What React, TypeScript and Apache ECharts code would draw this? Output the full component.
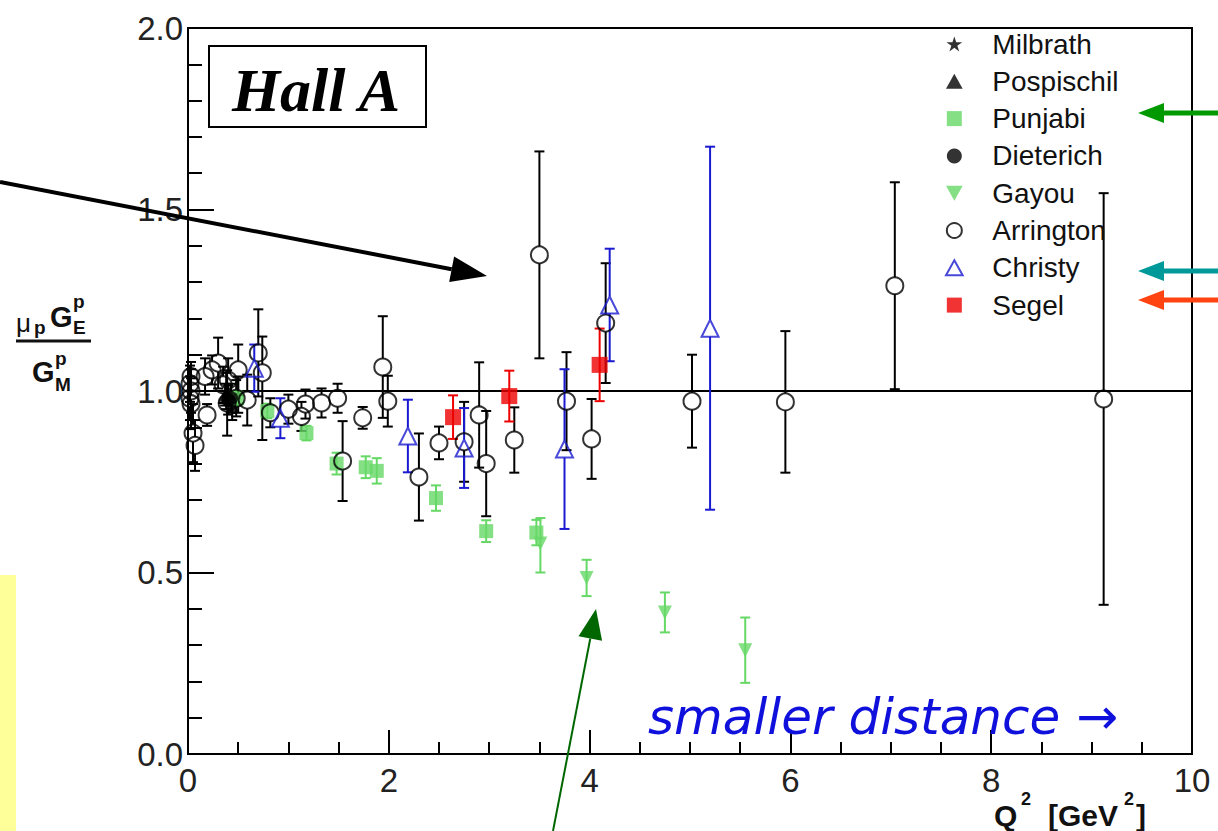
import React, { useEffect, useRef } from 'react';
import * as echarts from 'echarts';

// axis ticks
const xMin = 0, xMax = 10, xStep = 2;
const yMin = 0, yMax = 2, yStep = 0.5;

// [Q2, ratio, errLow, errHigh]
const milbrath = [[0.38, 1.0, 0.05, 0.05], [0.5, 0.99, 0.05, 0.05]];
const pospischil = [[0.37, 0.99, 0.03, 0.03], [0.44, 0.96, 0.04, 0.04]];
const punjabi = [
  [0.49, 0.98, 0.02, 0.02], [0.79, 0.945, 0.02, 0.02], [1.18, 0.884, 0.02, 0.02],
  [1.48, 0.8, 0.03, 0.03], [1.77, 0.79, 0.03, 0.03], [1.88, 0.78, 0.035, 0.035],
  [2.47, 0.705, 0.035, 0.035], [2.97, 0.614, 0.03, 0.03], [3.47, 0.61, 0.035, 0.035],
];
const dieterich = [[0.4, 0.975, 0.04, 0.04], [0.43, 0.98, 0.04, 0.04]];
const gayou = [
  [3.51, 0.58, 0.08, 0.07], [3.97, 0.485, 0.05, 0.05], [4.75, 0.39, 0.055, 0.055], [5.55, 0.286, 0.09, 0.09],
];
const arrington = [
  [0.03, 1.04, 0.04, 0.04], [0.02, 1.02, 0.05, 0.05], [0.03, 1.0, 0.06, 0.06], [0.02, 0.98, 0.06, 0.06],
  [0.03, 0.965, 0.07, 0.07], [0.05, 0.884, 0.08, 0.08], [0.07, 0.85, 0.07, 0.07], [0.19, 0.934, 0.03, 0.03],
  [0.17, 1.04, 0.05, 0.05], [0.24, 1.058, 0.04, 0.04], [0.3, 1.077, 0.07, 0.07], [0.35, 1.017, 0.05, 0.05],
  [0.4, 1.03, 0.06, 0.06], [0.39, 0.967, 0.09, 0.09], [0.5, 1.058, 0.07, 0.07], [0.48, 0.98, 0.05, 0.05],
  [0.59, 0.975, 0.07, 0.07], [0.7, 1.105, 0.12, 0.12], [0.74, 1.05, 0.185, 0.1], [0.82, 0.94, 0.04, 0.04],
  [1.0, 0.95, 0.04, 0.04], [1.13, 0.93, 0.04, 0.04], [1.17, 0.964, 0.04, 0.04], [1.33, 0.967, 0.04, 0.04],
  [1.49, 0.98, 0.04, 0.04], [1.54, 0.807, 0.11, 0.11], [1.74, 0.926, 0.03, 0.03], [1.94, 1.066, 0.14, 0.14],
  [1.99, 0.972, 0.07, 0.07], [2.3, 0.763, 0.12, 0.12], [2.5, 0.857, 0.045, 0.045], [2.75, 0.86, 0.11, 0.11],
  [2.9, 0.934, 0.145, 0.145], [2.97, 0.8, 0.145, 0.145], [3.25, 0.865, 0.09, 0.09], [3.5, 1.375, 0.285, 0.285],
  [3.77, 0.972, 0.135, 0.135], [4.02, 0.868, 0.11, 0.11], [4.16, 1.187, 0.165, 0.165], [5.02, 0.972, 0.128, 0.128],
  [5.95, 0.97, 0.195, 0.195], [7.04, 1.29, 0.285, 0.285], [9.12, 0.978, 0.567, 0.567],
];
const christy = [
  [0.66, 1.063, 0.065, 0.065], [0.92, 0.925, 0.055, 0.055], [2.19, 0.876, 0.1, 0.1], [2.75, 0.843, 0.11, 0.11],
  [3.75, 0.84, 0.22, 0.22], [4.2, 1.237, 0.155, 0.155], [5.2, 1.173, 0.5, 0.5],
];
const segel = [[2.64, 0.928, 0.06, 0.06], [3.2, 0.986, 0.07, 0.07], [4.1, 1.072, 0.1, 0.1]];

const legendNames = ['Milbrath', 'Pospischil', 'Punjabi', 'Dieterich', 'Gayou', 'Arrington', 'Christy', 'Segel'];

const GREEN = '#66d866';
const STAR = 'path://M5,0 L6.2,3.6 L10,3.6 L6.9,5.8 L8.1,9.5 L5,7.2 L1.9,9.5 L3.1,5.8 L0,3.6 L3.8,3.6 Z';
const DOWN = 'path://M0,0 L10,0 L5,9 Z';
const UP = 'path://M5,0 L10,9 L0,9 Z';
const SQUARE = 'path://M0,0 L10,0 L10,10 L0,10 Z';

const sets: any[] = [
  { name: 'Milbrath', data: milbrath, symbol: STAR, size: 11, color: '#000', hollow: false },
  { name: 'Pospischil', data: pospischil, symbol: UP, size: 14, color: '#000', hollow: false },
  { name: 'Punjabi', data: punjabi, symbol: SQUARE, size: 14, color: GREEN, hollow: false },
  { name: 'Dieterich', data: dieterich, symbol: 'circle', size: 14, color: '#000', hollow: false },
  { name: 'Gayou', data: gayou, symbol: DOWN, size: 14, color: GREEN, hollow: false },
  { name: 'Arrington', data: arrington, symbol: 'circle', size: 17, color: '#000', hollow: true },
  { name: 'Christy', data: christy, symbol: UP, size: 17, color: '#1a1ad0', hollow: true },
  { name: 'Segel', data: segel, symbol: SQUARE, size: 16, color: '#ee0000', hollow: false },
];

const makeErr = (color: string, gap: number) => (params: any, api: any) => {
  const x = api.value(0), y = api.value(1), lo = api.value(2), hi = api.value(3);
  const c = api.coord([x, y]);
  const t = api.coord([x, y + hi]);
  const b = api.coord([x, y - lo]);
  const style = { stroke: color, lineWidth: 2 };
  const ch: any[] = [];
  if (c[1] - gap > t[1]) ch.push({ type: 'line', shape: { x1: c[0], y1: t[1], x2: c[0], y2: c[1] - gap }, style });
  if (b[1] > c[1] + gap) ch.push({ type: 'line', shape: { x1: c[0], y1: c[1] + gap, x2: c[0], y2: b[1] }, style });
  ch.push({ type: 'line', shape: { x1: c[0] - 5, y1: t[1], x2: c[0] + 5, y2: t[1] }, style });
  ch.push({ type: 'line', shape: { x1: c[0] - 5, y1: b[1], x2: c[0] + 5, y2: b[1] }, style });
  return { type: 'group', children: ch };
};

function arrowHead(tip: number[], from: number[], len: number, half: number) {
  const dx = tip[0] - from[0], dy = tip[1] - from[1];
  const L = Math.hypot(dx, dy);
  const ux = dx / L, uy = dy / L;
  const bx = tip[0] - ux * len, by = tip[1] - uy * len;
  return { base: [bx, by], pts: [tip, [bx - uy * half, by + ux * half], [bx + uy * half, by - ux * half]] };
}

function arrow(from: number[], tip: number[], color: string, width: number, len: number, half: number) {
  const h = arrowHead(tip, from, len, half);
  return [
    { type: 'line', z: 20, shape: { x1: from[0], y1: from[1], x2: h.base[0], y2: h.base[1] }, style: { stroke: color, lineWidth: width } },
    { type: 'polygon', z: 20, shape: { points: h.pts }, style: { fill: color } },
  ];
}

export default function App() {
  const ref = useRef<HTMLDivElement>(null);
  useEffect(() => {
    if (!ref.current) return;
    const chart = echarts.init(ref.current, undefined, { renderer: 'svg' });
    const series: any[] = [];
    series.push({
      type: 'line', name: 'unity', data: [[0, 1], [10, 1]], symbol: 'none', silent: true,
      lineStyle: { color: '#000', width: 2 }, z: 1,
    });
    sets.forEach((s) => {
      series.push({
        type: 'custom', name: s.name + ' err', data: s.data, encode: { x: 0, y: 1 },
        renderItem: makeErr(s.color, s.hollow ? s.size / 2 : 0), z: 2, silent: true,
      });
    });
    sets.forEach((s) => {
      series.push({
        type: 'scatter', name: s.name, data: s.data.map((d: number[]) => [d[0], d[1]]),
        symbol: s.symbol, symbolSize: s.size, z: 3,
        itemStyle: s.hollow
          ? { color: 'rgba(255,255,255,0)', borderColor: s.color, borderWidth: 2 }
          : { color: s.color, borderWidth: 0 },
      });
    });

    const tickFont = { fontSize: 33, color: '#222', fontFamily: 'Liberation Sans' };
    const graphic: any[] = [
      { type: 'rect', z: 20, shape: { x: 0, y: 575, width: 16, height: 256 }, style: { fill: '#ffff99' } },
      { type: 'rect', z: 20, shape: { x: 209, y: 46, width: 217, height: 81 }, style: { fill: '#fff', stroke: '#000', lineWidth: 2 } },
      { type: 'text', z: 21, x: 316, y: 90, style: { text: 'Hall A', font: 'italic bold 62px "Liberation Serif"', fill: '#000', align: 'center', verticalAlign: 'middle' } },
      ...arrow([0, 182], [487, 276], '#000', 4, 36, 13),
      ...arrow([1218, 113], [1138, 113], '#009a00', 5, 26, 10),
      ...arrow([1218, 271], [1138, 271], '#009999', 5, 26, 10),
      ...arrow([1218, 300], [1138, 300], '#ff4411', 5, 26, 10),
      ...arrow([553, 831], [596, 609], '#006600', 2, 30, 12),
      { type: 'text', z: 21, x: 648, y: 717, style: { text: 'smaller distance →', font: 'italic 50px "DejaVu Sans"', fill: '#1010dd', verticalAlign: 'middle' } },
      // y-axis title: mu_p G_E^p / G_M^p
      { type: 'text', z: 21, x: 16, y: 323, style: { text: 'μ', font: '26px "Liberation Sans"', fill: '#111', verticalAlign: 'middle' } },
      { type: 'text', z: 21, x: 34, y: 327, style: { text: 'p', font: 'bold 19px "Liberation Sans"', fill: '#111', verticalAlign: 'middle' } },
      { type: 'text', z: 21, x: 50, y: 317, style: { text: 'G', font: 'bold 29px "Liberation Sans"', fill: '#111', verticalAlign: 'middle' } },
      { type: 'text', z: 21, x: 73, y: 301, style: { text: 'p', font: 'bold 19px "Liberation Sans"', fill: '#111', verticalAlign: 'middle' } },
      { type: 'text', z: 21, x: 73, y: 327, style: { text: 'E', font: 'bold 19px "Liberation Sans"', fill: '#111', verticalAlign: 'middle' } },
      { type: 'line', z: 21, shape: { x1: 16, y1: 341, x2: 91, y2: 341 }, style: { stroke: '#111', lineWidth: 3 } },
      { type: 'text', z: 21, x: 32, y: 372, style: { text: 'G', font: 'bold 29px "Liberation Sans"', fill: '#111', verticalAlign: 'middle' } },
      { type: 'text', z: 21, x: 55, y: 358, style: { text: 'p', font: 'bold 19px "Liberation Sans"', fill: '#111', verticalAlign: 'middle' } },
      { type: 'text', z: 21, x: 55, y: 384, style: { text: 'M', font: 'bold 19px "Liberation Sans"', fill: '#111', verticalAlign: 'middle' } },
      // x-axis title: Q^2 [GeV^2]
      { type: 'text', z: 21, x: 994, y: 815, style: { text: 'Q', font: 'bold 30px "Liberation Sans"', fill: '#111', verticalAlign: 'middle' } },
      { type: 'text', z: 21, x: 1021, y: 799, style: { text: '2', font: 'bold 18px "Liberation Sans"', fill: '#111', verticalAlign: 'middle' } },
      { type: 'text', z: 21, x: 1048, y: 815, style: { text: '[GeV', font: 'bold 30px "Liberation Sans"', fill: '#111', verticalAlign: 'middle' } },
      { type: 'text', z: 21, x: 1124, y: 799, style: { text: '2', font: 'bold 18px "Liberation Sans"', fill: '#111', verticalAlign: 'middle' } },
      { type: 'text', z: 21, x: 1136, y: 815, style: { text: ']', font: 'bold 30px "Liberation Sans"', fill: '#111', verticalAlign: 'middle' } },
    ];

    chart.setOption({
      animation: false,
      backgroundColor: '#fff',
      grid: { left: 188, top: 28, right: 26, bottom: 77, show: true, borderColor: '#000', borderWidth: 2, backgroundColor: 'rgba(0,0,0,0)' },
      xAxis: {
        type: 'value', min: xMin, max: xMax, interval: xStep,
        axisLine: { show: true, onZero: false, lineStyle: { color: '#000', width: 2 } },
        axisTick: { show: true, inside: true, length: 24, lineStyle: { color: '#000', width: 2 } },
        minorTick: { show: true, splitNumber: 4, length: 12, lineStyle: { color: '#000', width: 2 } },
        splitLine: { show: false },
        axisLabel: { ...tickFont, margin: 10 },
      },
      yAxis: {
        type: 'value', min: yMin, max: yMax, interval: yStep,
        axisLine: { show: true, onZero: false, lineStyle: { color: '#000', width: 2 } },
        axisTick: { show: true, inside: true, length: 26, lineStyle: { color: '#000', width: 2 } },
        minorTick: { show: true, splitNumber: 5, length: 14, lineStyle: { color: '#000', width: 2 } },
        splitLine: { show: false },
        axisLabel: { ...tickFont, margin: 5, formatter: (v: number) => v.toFixed(1) },
      },
      legend: {
        orient: 'vertical', left: 945, top: 30, padding: 0, itemWidth: 66, itemHeight: 15, itemGap: 9.3,
        selectedMode: false, symbolKeepAspect: true,
        textStyle: { fontSize: 28, fontFamily: 'Liberation Sans', color: '#111', lineHeight: 26 },
        data: legendNames,
      },
      graphic,
      series,
    });
    return () => chart.dispose();
  }, []);
  return <div ref={ref} style={{ position: 'fixed', left: 0, top: 0, width: 1218, height: 831, background: '#fff' }} />;
}
